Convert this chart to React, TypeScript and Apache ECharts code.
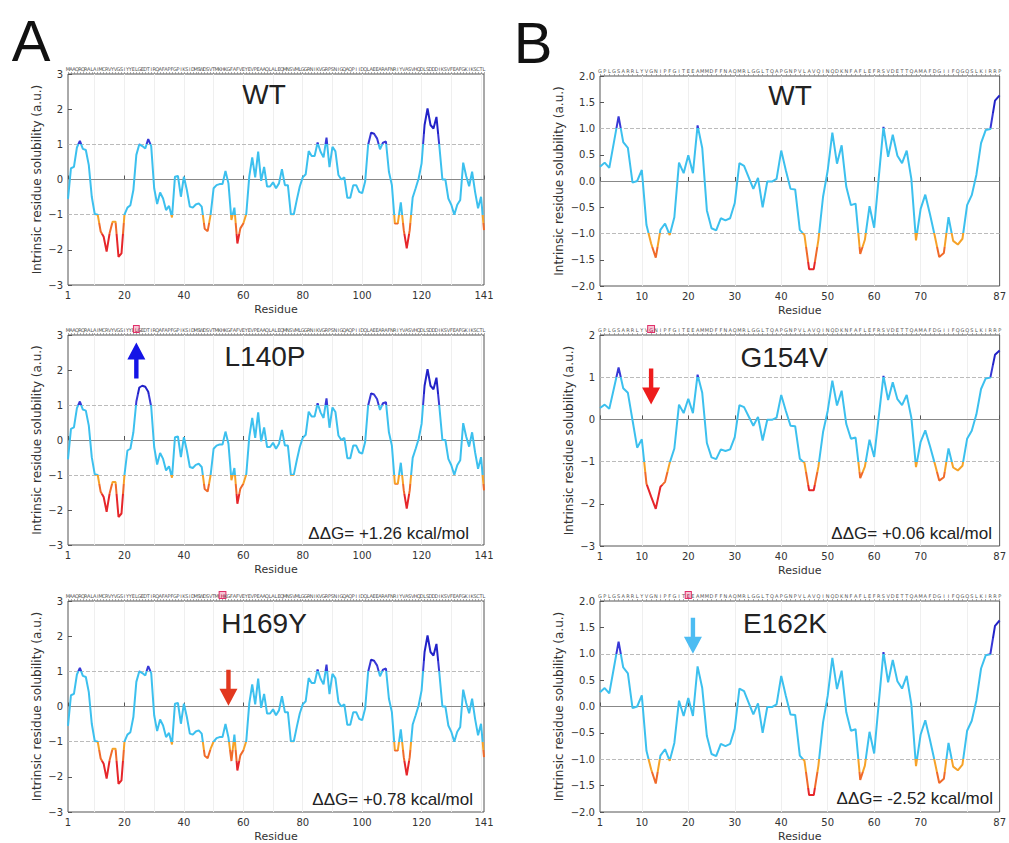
import React, { useEffect, useRef } from "react";
import * as echarts from "echarts";

// ---------- data ----------
const seqA =
  "MAAQRQRALAIMCRVYVGSIYYELGEDTIRQAFAPFGPIKSIDMSWDSVTMKHKGFAFVEYEVPEAAQLALEQMNSVMLGGRNIKVGRPSNIGQAQPIIDQLAEEARAFNRIYVASVHQDLSDDDIKSVFEAFGKIKSCTL";
const seqB =
  "GPLGSARRLYVGNIPFGITEEAMMDFFNAQMRLGGLTQAPGNPVLAVQINQDKNFAFLEFRSVDETTQAMAFDGIIFQGQSLKIRRP";

// Panel A (141 residues) wild type
const wtA = [
  -0.55, 0.32, 0.36, 0.91, 1.1, 0.87, 0.84, 0.41, -0.49, -0.98,
  -1.0, -1.48, -1.63, -2.05, -1.53, -1.2, -1.2, -2.2, -2.1, -1.0,
  -0.8, -0.73, -0.3, 0.7, 1.0, 0.95, 0.88, 1.15, 0.95, -0.25,
  -0.7, -0.37, -0.54, -0.87, -0.75, -1.08, 0.08, 0.1, -0.49, 0.08,
  -0.3, -0.77, -0.8, -0.71, -0.68, -0.77, -1.4, -1.47, -1.0, -0.25,
  -0.16, -0.13, -0.13, 0.24, -0.11, -1.15, -0.8, -1.82, -1.39, -1.25,
  -0.98, 0.08, 0.63, 0.06, 0.79, -0.04, 0.36, -0.2, -0.2, -0.08,
  -0.25, -0.11, 0.29, -0.16, -0.16, -0.99, -0.99, -0.58, -0.2, 0.06,
  0.15, 0.81, 0.67, 0.67, 1.05, 0.79, 0.63, 1.19, 0.35, 0.93,
  0.8, 0.13, 0.0, 0.06, -0.52, -0.52, -0.16, -0.16, -0.35, -0.39,
  -0.06, 0.98, 1.33, 1.3, 1.17, 0.86, 1.05, 1.08, 0.22, -0.16,
  -1.25, -1.25, -0.65, -1.44, -1.96, -1.44, -0.51, -0.25, 0.03, 0.46,
  1.55, 2.02, 1.55, 1.45, 1.78, 0.93, 0.0, 0.0, -0.54, -0.72,
  -1.0, -0.72, -0.58, 0.48, 0.1, -0.19, 0.22, -0.35, -0.82, -0.49,
  -1.44,
];
// L140P: residues 21-30 differ from WT
const l140pPatch = [-0.3, -0.25, 0.22, 1.1, 1.5, 1.55, 1.52, 1.38, 0.95, -0.2];
// H169Y: residues 49-57 differ from WT
const h169yPatch = [-1.2, -1.0, -0.9, -0.87, -0.87, -0.5, -0.88, -1.55, -0.8];

// Panel B (87 residues) wild type
const wtB = [
  0.27, 0.35, 0.25, 0.74, 1.23, 0.74, 0.63, -0.03, 0.0, 0.21,
  -0.84, -1.19, -1.46, -0.93, -0.81, -1.03, -0.69, 0.35, 0.15, 0.49,
  0.15, 1.06, 0.63, -0.56, -0.9, -0.94, -0.71, -0.75, -0.71, -0.42,
  0.34, 0.29, 0.07, -0.15, 0.06, -0.5, -0.01, -0.01, 0.04, 0.58,
  0.2, -0.15, -0.16, -0.93, -1.03, -1.68, -1.68, -1.12, -0.3, 0.2,
  0.92, 0.33, 0.68, -0.11, -0.46, -0.43, -1.39, -1.12, -0.48, -0.89,
  0.08, 1.03, 0.46, 0.88, 0.48, 0.34, 0.58, 0.04, -1.13, -0.53,
  -0.26, -0.63, -1.03, -1.45, -1.37, -0.69, -1.14, -1.21, -1.1, -0.46,
  -0.27, 0.12, 0.72, 0.97, 0.99, 1.53, 1.63,
];
// G154V: residues 8-17 differ from WT
const g154vPatch = [-0.02, -0.67, -0.47, -1.52, -1.83, -2.12, -1.6, -1.48, -1.03, -0.69];
// E162K: residues 18-23 differ from WT
const e162kPatch = [0.11, -0.18, 0.16, -0.18, 0.76, 0.35];

const ticksA = [1, 20, 40, 60, 80, 100, 120, 141];
const ticksB = [1, 10, 20, 30, 40, 50, 60, 70, 87];
const gridStep = 10;

function patched(base: number[], start: number, patch: number[]) {
  const out = base.slice();
  patch.forEach((v, i) => (out[start - 1 + i] = v));
  return out;
}

const ARROW = "path://M9,0 L18,17 L11.2,17 L11.2,36 L6.8,36 L6.8,17 L0,17 Z";

type Panel = {
  title: string;
  titleX: number;
  titleY: number;
  seq: string;
  mut: number;
  data: number[];
  ticks: number[];
  yMin: number;
  yMax: number;
  yStep: number;
  dec: number;
  left: number;
  top: number;
  width: number;
  height: number;
  yNameGap: number;
  arrow?: { res: number; y: number; color: string; down: boolean };
  ddg?: { text: string; x: number; y: number };
};

const panels: Panel[] = [
  {
    title: "WT", titleX: 264, titleY: 94, seq: seqA, mut: -1, data: wtA, ticks: ticksA,
    yMin: -3, yMax: 3, yStep: 1, dec: 0, left: 68, top: 74, width: 416, height: 211, yNameGap: 25,
  },
  {
    title: "L140P", titleX: 265, titleY: 356, seq: seqA, mut: 24, data: patched(wtA, 21, l140pPatch), ticks: ticksA,
    yMin: -3, yMax: 3, yStep: 1, dec: 0, left: 68, top: 335, width: 416, height: 210, yNameGap: 25,
    arrow: { res: 24, y: 2.27, color: "#1414e6", down: false },
    ddg: { text: "ΔΔG= +1.26 kcal/mol", x: 469, y: 533 },
  },
  {
    title: "H169Y", titleX: 264, titleY: 623, seq: seqA, mut: 53, data: patched(wtA, 49, h169yPatch), ticks: ticksA,
    yMin: -3, yMax: 3, yStep: 1, dec: 0, left: 68, top: 601, width: 416, height: 211, yNameGap: 25,
    arrow: { res: 55, y: 0.53, color: "#e2381f", down: true },
    ddg: { text: "ΔΔG= +0.78 kcal/mol", x: 473, y: 799 },
  },
  {
    title: "WT", titleX: 790, titleY: 95, seq: seqB, mut: -1, data: wtB, ticks: ticksB,
    yMin: -2, yMax: 2, yStep: 0.5, dec: 1, left: 600, top: 76, width: 407, height: 210, yNameGap: 35,
  },
  {
    title: "G154V", titleX: 784, titleY: 357, seq: seqB, mut: 12, data: patched(wtB, 8, g154vPatch), ticks: ticksB,
    yMin: -3, yMax: 2, yStep: 1, dec: 0, left: 600, top: 335, width: 403, height: 211, yNameGap: 25,
    arrow: { res: 12, y: 0.78, color: "#ee1c1c", down: true },
    ddg: { text: "ΔΔG= +0.06 kcal/mol", x: 992, y: 533 },
  },
  {
    title: "E162K", titleX: 785, titleY: 623, seq: seqB, mut: 20, data: patched(wtB, 18, e162kPatch), ticks: ticksB,
    yMin: -2, yMax: 2, yStep: 0.5, dec: 1, left: 600, top: 601, width: 407, height: 211, yNameGap: 35,
    arrow: { res: 21, y: 1.34, color: "#4cbcf2", down: true },
    ddg: { text: "ΔΔG= -2.52 kcal/mol", x: 993, y: 798 },
  },
];

const FONT = "'DejaVu Sans', sans-serif";

function buildOption() {
  const grid: any[] = [];
  const xAxis: any[] = [];
  const yAxis: any[] = [];
  const series: any[] = [];
  const graphic: any[] = [];

  panels.forEach((p, i) => {
    const n = p.data.length;
    const residues = Array.from({ length: n }, (_, k) => String(k + 1));
    const tickSet = new Set(p.ticks.map((t) => t - 1));
    grid.push({
      left: p.left, top: p.top, width: p.width, height: p.height,
      show: true, borderColor: "#555", borderWidth: 1, backgroundColor: "transparent",
    });
    xAxis.push({
      type: "category", gridIndex: i, data: residues, boundaryGap: false, position: "bottom",
      axisLine: { show: false },
      axisTick: { show: true, inside: true, length: 4, interval: (idx: number) => tickSet.has(idx), lineStyle: { color: "#555" } },
      axisLabel: { interval: (idx: number) => tickSet.has(idx), fontSize: 10, color: "#333", margin: 5, fontFamily: FONT },
      splitLine: { show: true, interval: (idx: number) => (idx + 1) % gridStep === 0, lineStyle: { color: "#efefef", width: 1 } },
      name: "Residue", nameLocation: "middle", nameGap: 19,
      nameTextStyle: { fontSize: 11, color: "#333", fontFamily: FONT },
    });
    xAxis.push({
      type: "category", gridIndex: i, data: p.seq.split(""), boundaryGap: false, position: "top",
      axisLine: { show: false },
      axisTick: { show: true, interval: 0, length: 2, lineStyle: { color: "#888", width: 0.7 } },
      axisLabel: {
        interval: 0, fontSize: 5, color: "#555", margin: 3, fontFamily: FONT,
        formatter: (v: string, idx: number) => (idx === p.mut - 1 ? `{hl|${v}}` : v),
        rich: { hl: { fontSize: 5, color: "#b01040", backgroundColor: "#f6c4d4", borderColor: "#e0306a", borderWidth: 1, padding: [1, 1, 0, 1] } },
      },
      splitLine: { show: false },
    });
    yAxis.push({
      type: "value", gridIndex: i, min: p.yMin, max: p.yMax, interval: p.yStep,
      axisLine: { show: false },
      axisTick: { show: true, inside: true, length: 4, lineStyle: { color: "#555" } },
      splitLine: { show: false },
      axisLabel: {
        fontSize: 10, color: "#333", margin: 5, fontFamily: FONT,
        formatter: (v: number) => (v < 0 ? "−" : "") + Math.abs(v).toFixed(p.dec),
      },
      name: "Intrinsic residue solubility (a.u.)", nameLocation: "middle", nameGap: p.yNameGap,
      nameTextStyle: { fontSize: 12, color: "#333", fontFamily: FONT },
    });
    const s: any = {
      type: "line", xAxisIndex: 2 * i, yAxisIndex: i, data: p.data,
      symbol: "none", showSymbol: false, lineStyle: { width: 2 }, z: 3,
      markLine: {
        silent: true, symbol: "none", z: 1, label: { show: false },
        data: [
          { yAxis: 0, lineStyle: { color: "#888", type: "solid", width: 1.2 } },
          { yAxis: 1, lineStyle: { color: "#bbb", type: "dashed", width: 1 } },
          { yAxis: -1, lineStyle: { color: "#bbb", type: "dashed", width: 1 } },
        ],
      },
    };
    if (p.arrow) {
      s.markPoint = {
        silent: true, label: { show: false },
        data: [{
          coord: [String(p.arrow.res), p.arrow.y], symbol: ARROW, symbolSize: [18, 36],
          symbolRotate: p.arrow.down ? 180 : 0, itemStyle: { color: p.arrow.color },
        }],
      };
    }
    series.push(s);

    graphic.push({
      type: "text", x: p.titleX, y: p.titleY, z: 100,
      style: { text: p.title, fill: "#222", font: "28px 'Liberation Sans', Arial, sans-serif", align: "center", verticalAlign: "middle" },
    });
    if (p.ddg) {
      graphic.push({
        type: "text", x: p.ddg.x, y: p.ddg.y, z: 100,
        style: { text: p.ddg.text, fill: "#222", font: "17px 'Liberation Sans', Arial, sans-serif", align: "right", verticalAlign: "middle" },
      });
    }
  });

  graphic.push({
    type: "text", x: 31, y: 40, z: 100,
    style: { text: "A", fill: "#111", font: "58px 'Liberation Sans', Arial, sans-serif", align: "center", verticalAlign: "middle" },
  });
  graphic.push({
    type: "text", x: 533, y: 42, z: 100,
    style: { text: "B", fill: "#111", font: "58px 'Liberation Sans', Arial, sans-serif", align: "center", verticalAlign: "middle" },
  });

  return {
    animation: false,
    backgroundColor: "#fff",
    grid, xAxis, yAxis, series, graphic,
    visualMap: {
      type: "piecewise", show: false, dimension: 1, seriesIndex: [0, 1, 2, 3, 4, 5],
      pieces: [
        { gt: 1.3, color: "#2222c8" },
        { gt: 1, lte: 1.3, color: "#3838d6" },
        { gt: -1, lte: 1, color: "#3cc0ee" },
        { gt: -1.25, lte: -1, color: "#f6a228" },
        { gt: -1.55, lte: -1.25, color: "#f06a2a" },
        { lte: -1.55, color: "#e6262a" },
      ],
    },
  };
}

export default function App() {
  const ref = useRef<HTMLDivElement>(null);
  useEffect(() => {
    if (!ref.current) return;
    const chart = echarts.init(ref.current, undefined, { renderer: "svg" });
    chart.setOption(buildOption() as any);
    return () => chart.dispose();
  }, []);
  return (
    <div
      ref={ref}
      style={{ position: "fixed", left: 0, top: 0, width: 1009, height: 843, background: "#fff" }}
    />
  );
}
